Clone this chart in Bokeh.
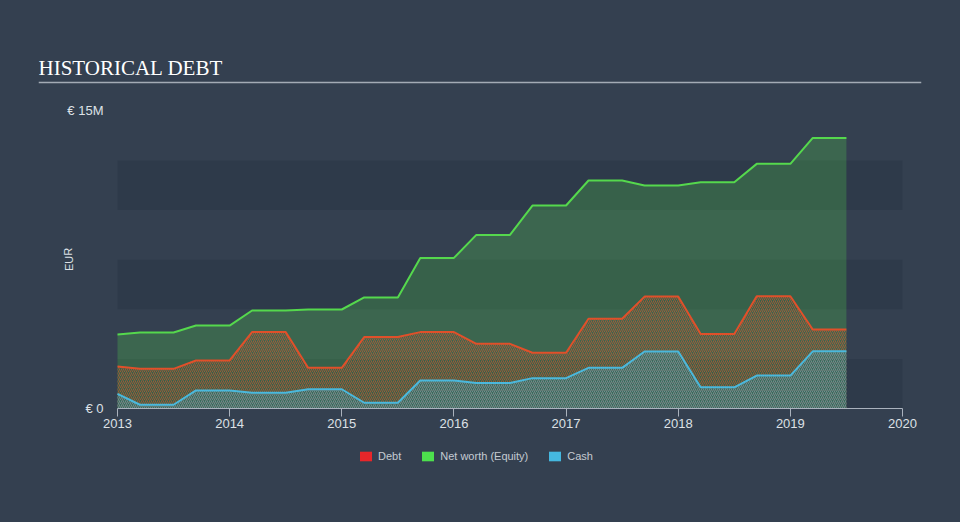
from bokeh.plotting import figure
from bokeh.models import Range1d, FixedTicker, Legend, LegendItem, Label, Span
from bokeh.embed import file_html
from bokeh.resources import INLINE

# ---- data (EUR millions) ----
step_dates = [2013.0, 2013.5, 2014.0, 2014.5, 2015.0, 2015.5, 2016.0,
              2016.5, 2017.0, 2017.5, 2018.0, 2018.5, 2019.0]
end_date = 2019.5

equity_start = 3.73
equity = [3.83, 4.18, 4.94, 4.99, 5.60, 7.59, 8.75, 10.23, 11.49, 11.24, 11.40, 12.33, 13.64]

debt_start = 2.12
debt = [2.00, 2.42, 3.85, 2.05, 3.60, 3.85, 3.26, 2.81, 4.52, 5.64, 3.76, 5.66, 3.98]

cash_start = 0.74
cash = [0.19, 0.91, 0.79, 0.97, 0.29, 1.41, 1.29, 1.53, 2.05, 2.87, 1.07, 1.66, 2.88]

x_ticks = [2013, 2014, 2015, 2016, 2017, 2018, 2019, 2020]
y_ticks = [0, 15]
y_tick_labels = {0: "€ 0", 15: "€ 15M"}
band_lows = [0, 5, 10]
band_highs = [2.5, 7.5, 12.5]

BG = "#344050"
BAND = "#2e3a4a"
RAMP = 0.2
NAN = float("nan")

# ---- layout geometry (pixels) ----
W, H = 960, 522
FRAME_L, FRAME_R, FRAME_T, FRAME_B = 38, 921, 40, 482
AXIS_L, AXIS_R = 117, 902          # where 2013 and 2020 sit
ZERO_Y = 408                       # where 0 sits
PX_PER_M = 19.84
px_per_year = (AXIS_R - AXIS_L) / (x_ticks[-1] - x_ticks[0])
x_start = x_ticks[0] - (AXIS_L - FRAME_L) / px_per_year
x_end = x_ticks[-1] + (FRAME_R - AXIS_R) / px_per_year
y_start = -(FRAME_B - ZERO_Y) / PX_PER_M
y_end = (ZERO_Y - FRAME_T) / PX_PER_M


def path(start, vals):
    xs, ys = [step_dates[0]], [start]
    for i, v in enumerate(vals):
        nxt = step_dates[i + 1] if i + 1 < len(step_dates) else end_date
        xs += [step_dates[i] + RAMP, nxt]
        ys += [v, v]
    return xs, ys


p = figure(width=W, height=H, output_backend="svg", toolbar_location=None,
           x_range=Range1d(x_start, x_end), y_range=Range1d(y_start, y_end),
           min_border_left=FRAME_L, min_border_right=W - FRAME_R,
           min_border_top=FRAME_T, min_border_bottom=H - FRAME_B)
p.styles = {"background-color": BG}
p.background_fill_color = BG
p.border_fill_color = BG
p.outline_line_color = None
p.xgrid.visible = False
p.ygrid.visible = False

# background bands
p.quad(left=[x_ticks[0]] * 3, right=[x_ticks[-1]] * 3, bottom=band_lows, top=band_highs,
       fill_color=BAND, line_color=None)

ex, ey = path(equity_start, equity)
dx, dy = path(debt_start, debt)
cx, cy = path(cash_start, cash)

p.varea(x=ex, y1=[0] * len(ex), y2=ey, fill_color="#55d84d", fill_alpha=0.25)
p.varea(x=dx, y1=[0] * len(dx), y2=dy, fill_alpha=0.0,
        hatch_pattern="/", hatch_color="#e0552c", hatch_alpha=0.6,
        hatch_scale=4, hatch_weight=1)
p.varea(x=cx, y1=[0] * len(cx), y2=cy, fill_color="#4ab8dc", fill_alpha=0.12,
        hatch_pattern="/", hatch_color="#4ab8dc", hatch_alpha=0.45,
        hatch_scale=4, hatch_weight=1)

p.line(ex, ey, line_color="#55d84d", line_width=2)
p.line(dx, dy, line_color="#e0502a", line_width=2)
p.line(cx, cy, line_color="#4ab8dc", line_width=2)

# x axis, drawn at y = 0
xa = p.xaxis[0]
xa.fixed_location = 0
xa.ticker = FixedTicker(ticks=x_ticks)
xa.bounds = (x_ticks[0], x_ticks[-1])
xa.axis_line_color = "#aab2bd"
xa.major_tick_line_color = "#aab2bd"
xa.major_tick_out = 8
xa.major_tick_in = 0
xa.minor_tick_line_color = None
xa.major_label_standoff = 2
xa.major_label_text_color = "#dde1e6"
xa.major_label_text_font = "Liberation Sans"
xa.major_label_text_font_size = "13px"

# y axis (labels pushed right into the padding area)
ya = p.yaxis[0]
ya.ticker = FixedTicker(ticks=y_ticks)
ya.major_label_overrides = y_tick_labels
ya.axis_line_color = None
ya.major_tick_line_color = None
ya.minor_tick_line_color = None
ya.major_tick_out = 0
ya.major_tick_in = 0
ya.major_label_standoff = -(103 - FRAME_L)
ya.major_label_text_color = "#dde1e6"
ya.major_label_text_font = "Liberation Sans"
ya.major_label_text_font_size = "13px"

# title, rule, EUR label
p.add_layout(Label(x=38 - FRAME_L, y=FRAME_B - 67, x_units="screen", y_units="screen",
                   text="HISTORICAL DEBT", text_font="Liberation Serif",
                   text_font_size="21px", text_color="#ffffff",
                   text_baseline="middle", text_align="left"))
p.add_layout(Span(location=(ZERO_Y - 82) / PX_PER_M, dimension="width",
                  line_color="#a3abb5", line_width=1.5))
p.add_layout(Label(x=68 - FRAME_L, y=FRAME_B - 259, x_units="screen", y_units="screen",
                   text="EUR", angle=1.5708, text_font="Liberation Sans",
                   text_font_size="11px", text_color="#dde1e6",
                   text_baseline="middle", text_align="center"))

# legend (swatch renderers hold no visible geometry)
r1 = p.quad(left=[NAN], right=[NAN], bottom=[NAN], top=[NAN], fill_color="#e8262a", line_color=None)
r2 = p.quad(left=[NAN], right=[NAN], bottom=[NAN], top=[NAN], fill_color="#4de04d", line_color=None)
r3 = p.quad(left=[NAN], right=[NAN], bottom=[NAN], top=[NAN], fill_color="#45b8e0", line_color=None)
legend = Legend(items=[LegendItem(label="Debt", renderers=[r1]),
                       LegendItem(label="Net worth (Equity)", renderers=[r2]),
                       LegendItem(label="Cash", renderers=[r3])],
                orientation="horizontal", location=(358 - FRAME_L, FRAME_B - 462),
                glyph_width=15, glyph_height=12, label_standoff=5, spacing=19,
                padding=0, margin=0, background_fill_alpha=0,
                border_line_color=None, label_text_font="Liberation Sans",
                label_text_font_size="11px", label_text_color="#c5cbd2",
                label_height=12)
p.add_layout(legend, "center")

open("out.html", "w").write(file_html(p, INLINE))
